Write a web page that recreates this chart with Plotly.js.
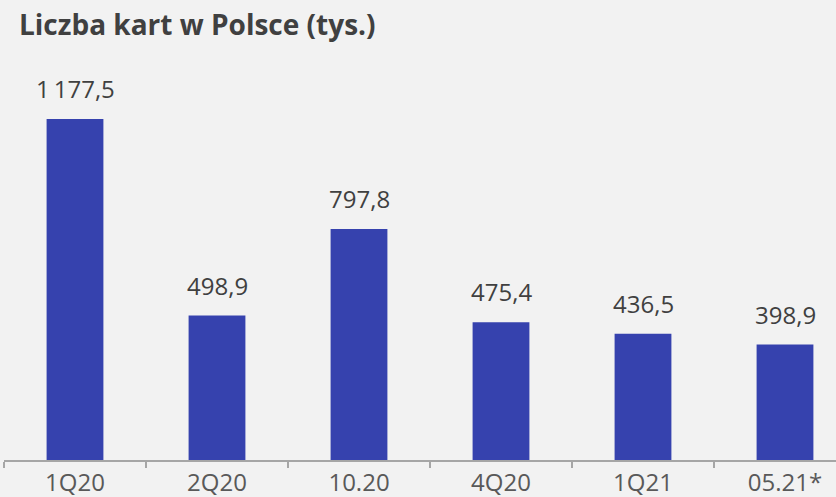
<!DOCTYPE html>
<html>
<head>
<meta charset="utf-8">
<script src="https://cdn.plot.ly/plotly-3.0.1.min.js"></script>
<style>html,body{margin:0;padding:0;background:#f2f2f2;}#chart{width:836px;height:497px;}</style>
</head>
<body>
<div id="chart"></div>
<script>
const categories = ['1Q20', '2Q20', '10.20', '4Q20', '1Q21', '05.21*'];
const values = [1177.5, 498.9, 797.8, 475.4, 436.5, 398.9];
const chartTitle = 'Liczba kart w Polsce (tys.)';

const fmt = v => {
  const parts = v.toFixed(1).split('.');
  const intPart = parts[0].replace(/\B(?=(\d{3})+(?!\d))/g, '\u2009');
  return intPart + ',' + parts[1];
};

const trace = {
  type: 'bar',
  x: categories,
  y: values,
  width: 0.4,
  marker: {color: '#3642ae'},
  hoverinfo: 'skip'
};

const annotations = categories.map((c, i) => ({
  x: i, y: values[i], xref: 'x', yref: 'y',
  text: fmt(values[i]),
  showarrow: false, yanchor: 'bottom', yshift: 12,
  font: {family: 'Open Sans, sans-serif', size: 24, color: '#404040'}
}));

const layout = {
  width: 836, height: 497,
  paper_bgcolor: '#f2f2f2', plot_bgcolor: '#f2f2f2',
  margin: {l: 4, r: 0, t: 60, b: 37},
  showlegend: false,
  title: {
    text: '<b>' + chartTitle + '</b>',
    x: 19/836, xref: 'container', xanchor: 'left',
    y: 1 - 25/497, yref: 'container', yanchor: 'middle',
    font: {family: 'Open Sans, sans-serif', size: 28, color: '#404040'}
  },
  xaxis: {
    type: 'category',
    range: [-0.5, -0.5 + 832/142],
    showline: true, linecolor: '#a6a6a6', linewidth: 2,
    ticks: 'outside', tickson: 'boundaries', ticklen: 6, tickwidth: 2, tickcolor: '#a6a6a6',
    tickfont: {family: 'Open Sans, sans-serif', size: 24, color: '#595959'},
    showgrid: false, zeroline: false, fixedrange: true
  },
  yaxis: {
    range: [0, 400/0.2895],
    visible: false, showgrid: false, zeroline: false, fixedrange: true
  },
  annotations: annotations
};

Plotly.newPlot('chart', [trace], layout, {displayModeBar: false, staticPlot: true});
</script>
</body>
</html>
